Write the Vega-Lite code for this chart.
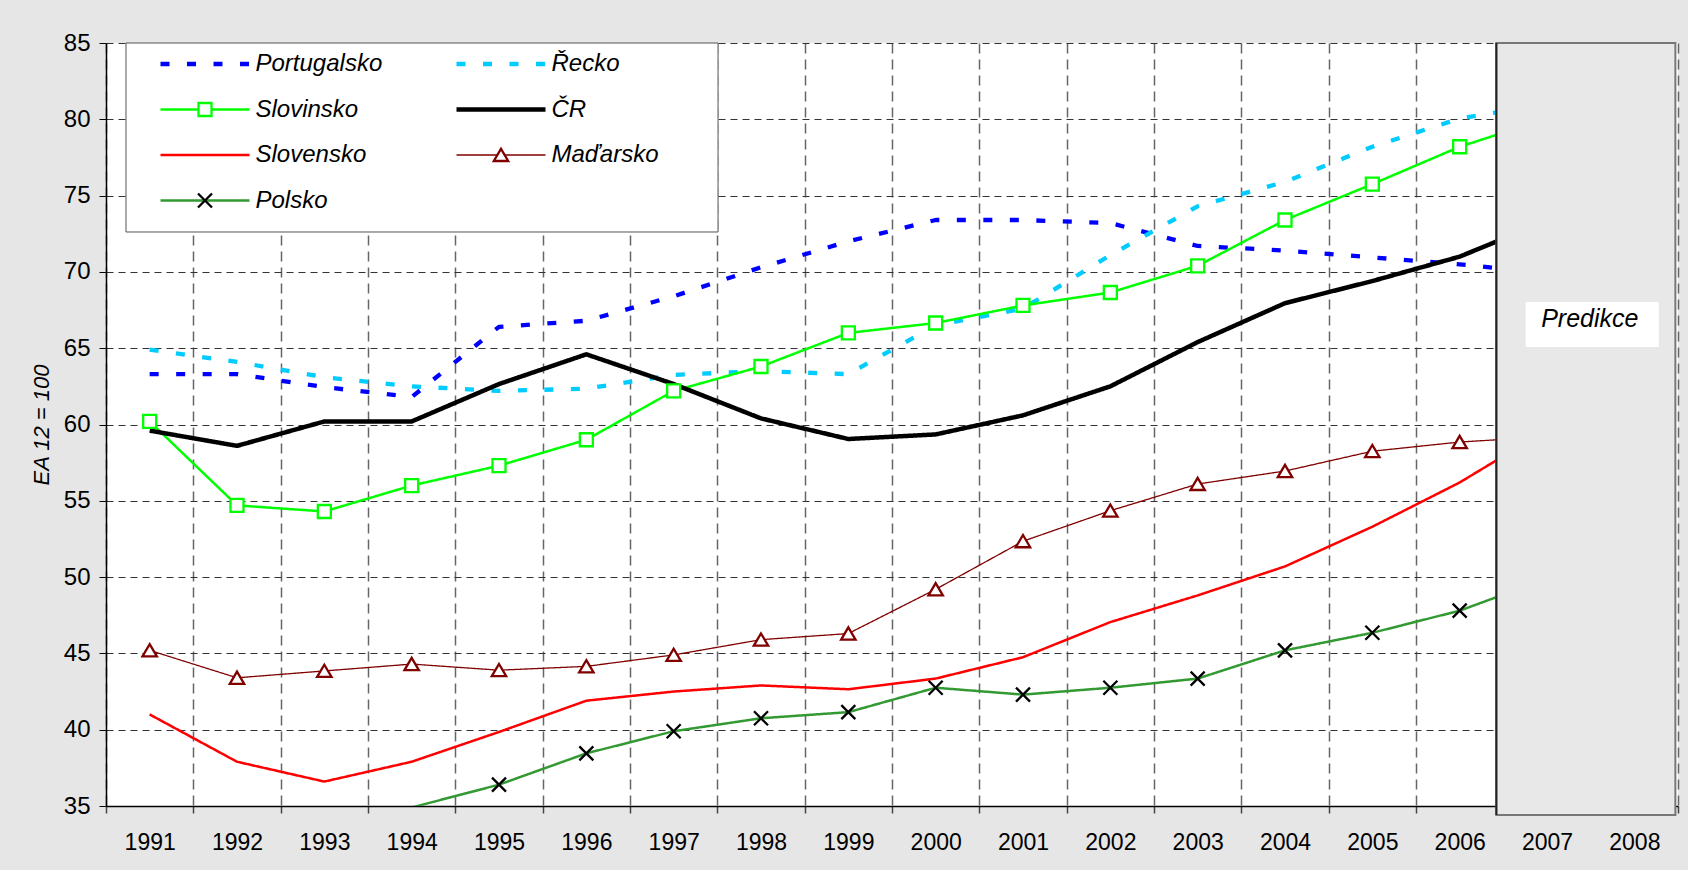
{
  "$schema": "https://vega.github.io/schema/vega-lite/v6.json",
  "width": 1572,
  "height": 763,
  "autosize": {"type": "none"},
  "padding": {"left": 106, "top": 43, "right": 10, "bottom": 64},
  "background": "#e6e6e6",
  "config": {
    "font": "Liberation Sans",
    "view": {"fill": "white", "stroke": null}
  },
  "datasets": {
    "main": [
      {"series":"Portugalsko","year":1991,"value":63.3},{"series":"Portugalsko","year":1992,"value":63.3},{"series":"Portugalsko","year":1993,"value":62.45},{"series":"Portugalsko","year":1994,"value":61.8},{"series":"Portugalsko","year":1995,"value":66.4},{"series":"Portugalsko","year":1996,"value":66.8},{"series":"Portugalsko","year":1997,"value":68.4},{"series":"Portugalsko","year":1998,"value":70.3},{"series":"Portugalsko","year":1999,"value":72.0},{"series":"Portugalsko","year":2000,"value":73.4},{"series":"Portugalsko","year":2001,"value":73.4},{"series":"Portugalsko","year":2002,"value":73.2},{"series":"Portugalsko","year":2003,"value":71.7},{"series":"Portugalsko","year":2004,"value":71.4},{"series":"Portugalsko","year":2005,"value":70.95},{"series":"Portugalsko","year":2006,"value":70.5},{"series":"Portugalsko","year":2007,"value":69.9},
      {"series":"Řecko","year":1991,"value":64.9},{"series":"Řecko","year":1992,"value":64.1},{"series":"Řecko","year":1993,"value":63.1},{"series":"Řecko","year":1994,"value":62.5},{"series":"Řecko","year":1995,"value":62.2},{"series":"Řecko","year":1996,"value":62.35},{"series":"Řecko","year":1997,"value":63.25},{"series":"Řecko","year":1998,"value":63.5},{"series":"Řecko","year":1999,"value":63.3},{"series":"Řecko","year":2000,"value":66.5},{"series":"Řecko","year":2001,"value":67.6},{"series":"Řecko","year":2002,"value":71.1},{"series":"Řecko","year":2003,"value":74.3},{"series":"Řecko","year":2004,"value":75.9},{"series":"Řecko","year":2005,"value":78.2},{"series":"Řecko","year":2006,"value":80.05},{"series":"Řecko","year":2007,"value":81.0},
      {"series":"Slovinsko","year":1991,"value":60.2},{"series":"Slovinsko","year":1992,"value":54.7},{"series":"Slovinsko","year":1993,"value":54.3},{"series":"Slovinsko","year":1994,"value":56.0},{"series":"Slovinsko","year":1995,"value":57.3},{"series":"Slovinsko","year":1996,"value":59.0},{"series":"Slovinsko","year":1997,"value":62.2},{"series":"Slovinsko","year":1998,"value":63.8},{"series":"Slovinsko","year":1999,"value":66.0},{"series":"Slovinsko","year":2000,"value":66.65},{"series":"Slovinsko","year":2001,"value":67.8},{"series":"Slovinsko","year":2002,"value":68.65},{"series":"Slovinsko","year":2003,"value":70.4},{"series":"Slovinsko","year":2004,"value":73.4},{"series":"Slovinsko","year":2005,"value":75.75},{"series":"Slovinsko","year":2006,"value":78.2},{"series":"Slovinsko","year":2007,"value":80.05},
      {"series":"ČR","year":1991,"value":59.6},{"series":"ČR","year":1992,"value":58.6},{"series":"ČR","year":1993,"value":60.2},{"series":"ČR","year":1994,"value":60.2},{"series":"ČR","year":1995,"value":62.65},{"series":"ČR","year":1996,"value":64.6},{"series":"ČR","year":1997,"value":62.65},{"series":"ČR","year":1998,"value":60.4},{"series":"ČR","year":1999,"value":59.05},{"series":"ČR","year":2000,"value":59.35},{"series":"ČR","year":2001,"value":60.6},{"series":"ČR","year":2002,"value":62.5},{"series":"ČR","year":2003,"value":65.4},{"series":"ČR","year":2004,"value":67.95},{"series":"ČR","year":2005,"value":69.4},{"series":"ČR","year":2006,"value":71.0},{"series":"ČR","year":2007,"value":73.35},
      {"series":"Slovensko","year":1991,"value":41.0},{"series":"Slovensko","year":1992,"value":37.9},{"series":"Slovensko","year":1993,"value":36.6},{"series":"Slovensko","year":1994,"value":37.9},{"series":"Slovensko","year":1995,"value":39.85},{"series":"Slovensko","year":1996,"value":41.9},{"series":"Slovensko","year":1997,"value":42.5},{"series":"Slovensko","year":1998,"value":42.9},{"series":"Slovensko","year":1999,"value":42.65},{"series":"Slovensko","year":2000,"value":43.35},{"series":"Slovensko","year":2001,"value":44.75},{"series":"Slovensko","year":2002,"value":47.05},{"series":"Slovensko","year":2003,"value":48.8},{"series":"Slovensko","year":2004,"value":50.7},{"series":"Slovensko","year":2005,"value":53.3},{"series":"Slovensko","year":2006,"value":56.2},{"series":"Slovensko","year":2007,"value":59.65},
      {"series":"Maďarsko","year":1991,"value":45.2},{"series":"Maďarsko","year":1992,"value":43.4},{"series":"Maďarsko","year":1993,"value":43.85},{"series":"Maďarsko","year":1994,"value":44.3},{"series":"Maďarsko","year":1995,"value":43.9},{"series":"Maďarsko","year":1996,"value":44.15},{"series":"Maďarsko","year":1997,"value":44.9},{"series":"Maďarsko","year":1998,"value":45.9},{"series":"Maďarsko","year":1999,"value":46.3},{"series":"Maďarsko","year":2000,"value":49.2},{"series":"Maďarsko","year":2001,"value":52.35},{"series":"Maďarsko","year":2002,"value":54.35},{"series":"Maďarsko","year":2003,"value":56.1},{"series":"Maďarsko","year":2004,"value":56.95},{"series":"Maďarsko","year":2005,"value":58.25},{"series":"Maďarsko","year":2006,"value":58.85},{"series":"Maďarsko","year":2007,"value":59.2},
      {"series":"Polsko","year":1993,"value":33.9},{"series":"Polsko","year":1994,"value":34.9},{"series":"Polsko","year":1995,"value":36.4},{"series":"Polsko","year":1996,"value":38.45},{"series":"Polsko","year":1997,"value":39.9},{"series":"Polsko","year":1998,"value":40.75},{"series":"Polsko","year":1999,"value":41.15},{"series":"Polsko","year":2000,"value":42.75},{"series":"Polsko","year":2001,"value":42.3},{"series":"Polsko","year":2002,"value":42.75},{"series":"Polsko","year":2003,"value":43.35},{"series":"Polsko","year":2004,"value":45.2},{"series":"Polsko","year":2005,"value":46.35},{"series":"Polsko","year":2006,"value":47.8},{"series":"Polsko","year":2007,"value":49.9}
    ]
  },
  "layer": [
    {
      "data": {"name": "main"},
      "mark": {"type": "line", "clip": true, "strokeJoin": "round"},
      "encoding": {
        "x": {
          "field": "year", "type": "quantitative",
          "scale": {"domain": [1990.5, 2008.5], "nice": false, "zero": false},
          "axis": {
            "title": null,
            "values": [1990.5,1991.5,1992.5,1993.5,1994.5,1995.5,1996.5,1997.5,1998.5,1999.5,2000.5,2001.5,2002.5,2003.5,2004.5,2005.5,2006.5,2007.5,2008.5],
            "labelExpr": "datum.value < 2008 ? format(datum.value + 0.5, 'd') : ''",
            "labelOffset": 43.67,
            "labelFlush": false, "labelOverlap": false, "labelBound": false,
            "labelFontSize": 23, "labelColor": "black", "labelPadding": 18,
            "grid": true, "gridDash": [10, 6], "gridColor": "#666", "gridWidth": 1.5,
            "ticks": true, "tickSize": 7, "tickColor": "#444", "tickWidth": 1.5,
            "domainColor": "black", "domainWidth": 1.5
          }
        },
        "y": {
          "field": "value", "type": "quantitative",
          "scale": {"domain": [35, 85], "nice": false, "zero": false},
          "axis": {
            "title": "EA 12 = 100",
            "titleFontStyle": "italic", "titleFontWeight": "normal", "titleFontSize": 22, "titleColor": "black", "titlePadding": 10,
            "values": [35,40,45,50,55,60,65,70,75,80,85],
            "labelFontSize": 24, "labelColor": "black", "labelPadding": 9,
            "grid": true, "gridDash": [7, 5], "gridColor": "#333", "gridWidth": 1,
            "tickSize": 7, "tickColor": "black",
            "domainColor": "black", "domainWidth": 1.5
          }
        },
        "color": {
          "field": "series", "type": "nominal",
          "scale": {
            "domain": ["Portugalsko","Řecko","Slovinsko","ČR","Slovensko","Maďarsko","Polsko"],
            "range": ["#0000FF","#00CCFF","#00FF00","#000000","#FF0000","#800000","#339933"]
          },
          "legend": {
            "orient": "none", "legendX": 87, "legendY": 9, "columns": 2, "direction": "horizontal", "title": null,
            "symbolType": "M-4.45,0H4.45", "symbolSize": 400, "symbolStrokeWidth": 2.5,
            "labelFontStyle": "italic", "labelFontSize": 24, "labelColor": "black", "labelLimit": 400,
            "labelOffset": 38.5, "rowPadding": 21.5, "columnPadding": 64, "padding": 0, "zindex": 1,
            "encode": {
              "symbols": {
                "update": {
                  "fill": {"value": "transparent"},
                  "stroke": {"scale": "color", "field": "value"},
                  "strokeDash": {"signal": "(datum.value === 'Portugalsko' || datum.value === 'Řecko') ? [9, 17.5] : [1, 0]"},
                  "strokeWidth": {"signal": "datum.value === 'Maďarsko' ? 1.3 : ((datum.value === 'Slovinsko' || datum.value === 'Slovensko' || datum.value === 'Polsko') ? 2.5 : 4.5)"}
                }
              }
            }
          }
        },
        "strokeDash": {
          "condition": {"test": "datum.series === 'Portugalsko' || datum.series === 'Řecko'", "value": [9, 17.5]},
          "value": [1, 0]
        },
        "strokeWidth": {
          "condition": [
            {"test": "datum.series === 'Portugalsko' || datum.series === 'Řecko'", "value": 4.3},
            {"test": "datum.series === 'ČR'", "value": 4.5},
            {"test": "datum.series === 'Maďarsko'", "value": 1.3}
          ],
          "value": 2.5
        }
      }
    },
    {
      "data": {"name": "main"},
      "transform": [
        {"filter": {"field": "series", "oneOf": ["Slovinsko", "Maďarsko", "Polsko"]}},
        {"filter": "datum.value >= 35 && datum.year <= 2006"}
      ],
      "mark": {"type": "point", "size": 400, "opacity": 1, "strokeWidth": 2.3, "fill": "white", "filled": false},
      "encoding": {
        "x": {"field": "year", "type": "quantitative"},
        "y": {"field": "value", "type": "quantitative"},
        "fill": {"value": "white"},
        "shape": {
          "field": "series", "type": "nominal",
          "scale": {
            "domain": ["Portugalsko","Řecko","Slovinsko","ČR","Slovensko","Maďarsko","Polsko","-"],
            "range": [
              "M-4.45,0M4.45,0",
              "M-4.45,0M4.45,0",
              "M-4.45,0M4.45,0M-0.65,-0.65H0.65V0.65H-0.65Z",
              "M-4.45,0M4.45,0",
              "M-4.45,0M4.45,0",
              "M-4.45,0M4.45,0M0,-0.62L0.72,0.6H-0.72Z",
              "M-4.45,0M4.45,0M-0.7,-0.7L0.7,0.7M-0.7,0.7L0.7,-0.7",
              "M-4.45,0M4.45,0"
            ]
          },
          "legend": {
            "orient": "none", "legendX": 87, "legendY": 9, "columns": 2, "direction": "horizontal", "title": null,
            "values": ["Portugalsko","Řecko","Slovinsko","ČR","Slovensko","Maďarsko","Polsko"],
            "symbolSize": 400, "symbolStrokeWidth": 2.3,
            "labelExpr": "' '",
            "labelFontStyle": "italic", "labelFontSize": 24, "labelOpacity": 0, "labelLimit": 400,
            "labelOffset": 38.5, "rowPadding": 21.5, "columnPadding": 195, "padding": 0, "zindex": 2
          }
        },
        "stroke": {
          "field": "series", "type": "nominal",
          "scale": {
            "domain": ["Portugalsko","Řecko","Slovinsko","ČR","Slovensko","Maďarsko","Polsko","-"],
            "range": ["black","black","#00FF00","black","black","#800000","black","black"]
          },
          "legend": {
            "orient": "none", "legendX": 87, "legendY": 9, "columns": 2, "direction": "horizontal", "title": null,
            "values": ["Portugalsko","Řecko","Slovinsko","ČR","Slovensko","Maďarsko","Polsko"],
            "symbolSize": 400, "symbolStrokeWidth": 2.3,
            "labelExpr": "' '",
            "labelFontStyle": "italic", "labelFontSize": 24, "labelOpacity": 0, "labelLimit": 400,
            "labelOffset": 38.5, "rowPadding": 21.5, "columnPadding": 195, "padding": 0, "zindex": 2
          }
        }
      }
    },
    {
      "data": {"values": [{}]},
      "mark": {"type": "rect", "fill": "white", "stroke": "#555", "strokeWidth": 1},
      "encoding": {
        "x": {"datum": 1990.729, "type": "quantitative"},
        "x2": {"datum": 1997.508},
        "y": {"datum": 85, "type": "quantitative"},
        "y2": {"datum": 72.615}
      }
    },
    {
      "data": {"values": [{}]},
      "mark": {"type": "rect", "fill": "#e8e8e8", "stroke": "#777", "strokeWidth": 2},
      "encoding": {
        "x": {"datum": 2006.42, "type": "quantitative"},
        "x2": {"datum": 2008.47},
        "y": {"datum": 85, "type": "quantitative"},
        "y2": {"datum": 34.41}
      }
    },
    {
      "data": {"values": [{}]},
      "mark": {"type": "rule", "stroke": "#222", "strokeWidth": 2},
      "encoding": {
        "x": {"datum": 2006.42, "type": "quantitative"},
        "y": {"datum": 85, "type": "quantitative"},
        "y2": {"datum": 34.41}
      }
    },
    {
      "data": {"values": [{}]},
      "mark": {"type": "rect", "fill": "white"},
      "encoding": {
        "x": {"datum": 2006.756, "type": "quantitative"},
        "x2": {"datum": 2008.28},
        "y": {"datum": 68.03, "type": "quantitative"},
        "y2": {"datum": 65.08}
      }
    },
    {
      "data": {"values": [{}]},
      "mark": {"type": "text", "text": "Predikce", "fontSize": 25, "fontStyle": "italic", "color": "black", "align": "center", "baseline": "alphabetic"},
      "encoding": {
        "x": {"datum": 2007.49, "type": "quantitative"},
        "y": {"datum": 66.41, "type": "quantitative"}
      }
    }
  ]
}
